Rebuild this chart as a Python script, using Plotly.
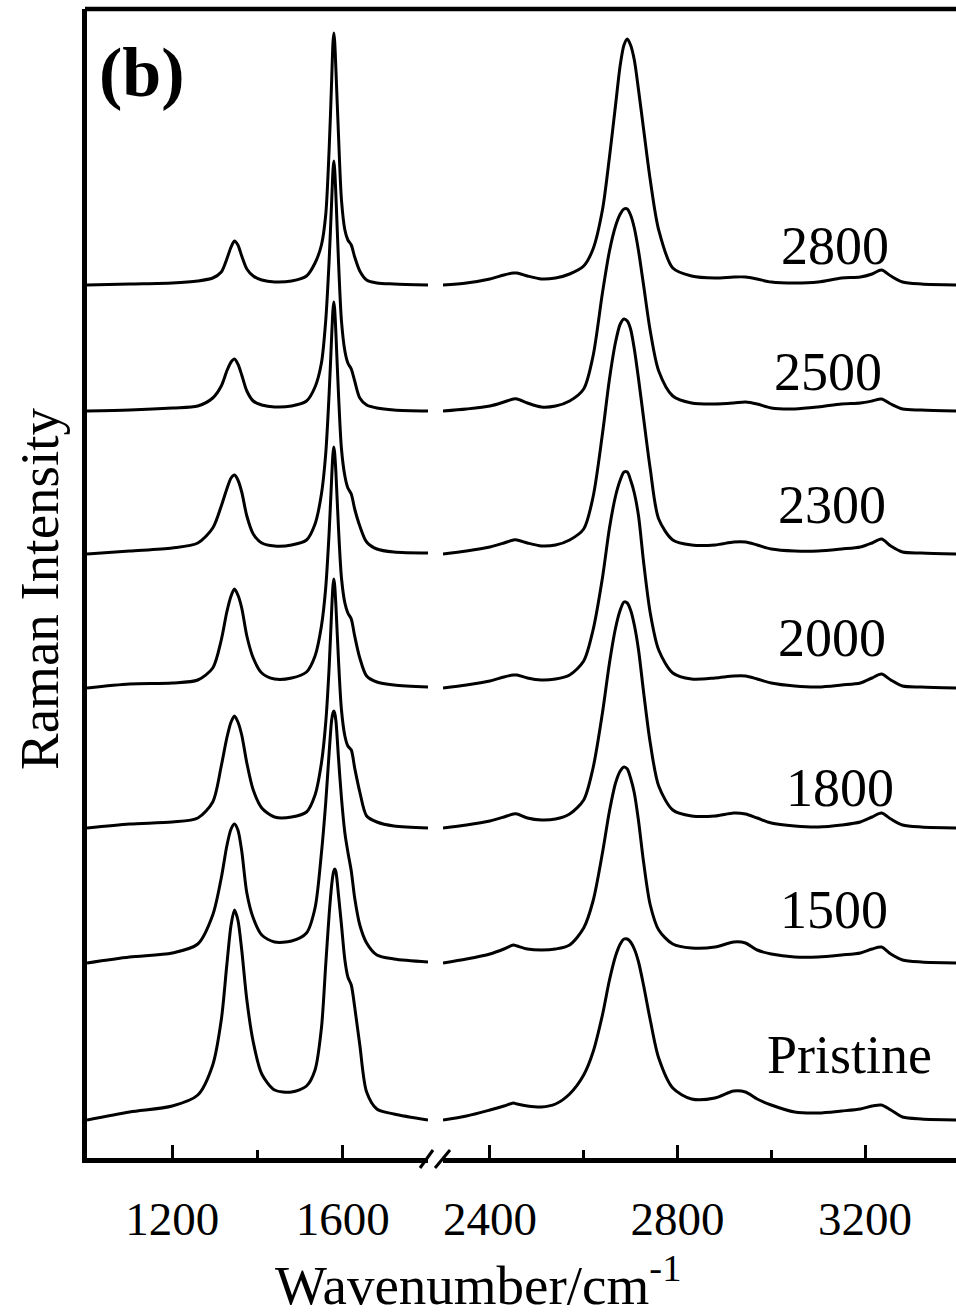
import plotly.graph_objects as go

# ---------------- data ----------------
LEFT_WN = [1000, 1100, 1200, 1260, 1295, 1315, 1328, 1338, 1346, 1354, 1363, 1375, 1390, 1410,
           1440, 1480, 1515, 1535, 1550, 1560, 1568, 1574, 1577, 1579, 1581, 1584, 1590, 1597,
           1605, 1612, 1620, 1628, 1640, 1656, 1680, 1720, 1800]
RIGHT_WN = [2300, 2350, 2400, 2430, 2450, 2458, 2480, 2510, 2540, 2570, 2600, 2620, 2640, 2655,
            2668, 2678, 2686, 2693, 2700, 2708, 2717, 2728, 2742, 2760, 2790, 2830, 2880, 2920,
            2945, 2970, 3000, 3050, 3100, 3150, 3190, 3215, 3235, 3255, 3280, 3320, 3400]

labels = ["Pristine", "1500", "1800", "2000", "2300", "2500", "2800"]
stack_offsets = [38, 195, 330, 470, 604, 747, 873]

left_pristine = [0, 8, 14, 25, 55, 100, 155, 195, 210, 200, 170, 120, 78, 46, 30, 28, 34, 50, 92, 155,
                 205, 235, 245, 249, 251, 248, 225, 195, 160, 143, 135, 113, 75, 28, 11, 6, 0]
left_1500 = [0, 6, 10, 19, 48, 85, 117, 134, 139, 133, 112, 70, 45, 28, 21, 22, 30, 55, 110, 160,
             210, 243, 250, 252, 250, 242, 205, 165, 130, 111, 92, 65, 38, 20, 8, 4, 1]
left_1800 = [0, 4, 6, 10, 26, 62, 90, 106, 112, 106, 93, 65, 38, 20, 11, 11, 16, 33, 65, 105,
             160, 218, 242, 249, 243, 222, 168, 118, 92, 82, 78, 60, 36, 12, 6, 2, 0]
left_2000 = [0, 4, 5, 8, 20, 48, 76, 92, 99, 93, 80, 52, 30, 15, 9, 10, 16, 32, 62, 100,
             155, 210, 234, 241, 235, 215, 160, 110, 85, 75, 69, 52, 30, 12, 6, 3, 1]
left_2300 = [0, 3, 6, 11, 26, 48, 65, 76, 79, 74, 62, 38, 20, 11, 8, 9, 14, 30, 60, 100,
             160, 218, 244, 252, 245, 220, 160, 105, 78, 66, 60, 45, 28, 12, 5, 2, 1]
left_2500 = [0, 1, 3, 5, 13, 25, 40, 49, 52, 47, 36, 20, 10, 6, 4, 5, 10, 24, 48, 90,
             150, 210, 240, 250, 242, 215, 150, 90, 60, 48, 42, 30, 13, 6, 3, 1, 0]
left_2800 = [0, 1, 2, 4, 7, 13, 26, 38, 44, 40, 29, 16, 9, 5, 3, 4, 9, 22, 40, 70,
             135, 205, 242, 252, 244, 215, 150, 85, 55, 45, 40, 28, 14, 5, 2, 1, 0]

right_pristine = [0, 4, 10, 14, 17, 16, 14, 13, 16, 26, 45, 68, 105, 140, 164, 176, 181, 181, 178, 171,
                  158, 134, 100, 62, 32, 21, 22, 29, 28, 21, 15, 8, 7, 9, 11, 14, 15, 10, 3, 1, 0]
right_1500 = [0, 4, 9, 14, 18, 17, 14, 13, 14, 18, 35, 62, 110, 152, 180, 192, 196, 194, 185, 170,
              142, 100, 58, 33, 19, 15, 16, 21, 20, 13, 9, 6, 6, 8, 10, 14, 16, 9, 3, 1, 0]
right_1800 = [0, 3, 7, 11, 14, 14, 10, 8, 9, 14, 28, 60, 115, 165, 200, 218, 226, 225, 218, 203,
              178, 135, 85, 42, 18, 12, 12, 15, 14, 10, 5, 2, 1, 3, 6, 11, 15, 9, 3, 1, 0]
right_2000 = [0, 3, 7, 11, 13, 13, 10, 8, 9, 13, 27, 58, 110, 160, 192, 208, 216, 216, 208, 195,
              172, 125, 75, 38, 15, 9, 10, 12, 12, 9, 5, 2, 1, 3, 5, 10, 14, 8, 2, 1, 0]
right_2300 = [0, 3, 7, 11, 14, 14, 11, 8, 9, 14, 25, 57, 120, 175, 212, 230, 235, 233, 225, 205,
              175, 135, 85, 35, 14, 9, 9, 12, 12, 9, 5, 3, 3, 5, 7, 11, 15, 8, 2, 1, 0]
right_2500 = [0, 2, 5, 9, 12, 12, 8, 4, 5, 10, 22, 55, 118, 160, 185, 197, 202, 202, 196, 183,
              160, 125, 80, 40, 15, 8, 7, 8, 9, 7, 3, 2, 4, 7, 8, 10, 12, 7, 2, 1, 0]
right_2800 = [0, 2, 6, 10, 12, 12, 9, 6, 7, 11, 19, 36, 75, 128, 180, 220, 240, 246, 240, 225,
              195, 155, 105, 55, 17, 9, 7, 8, 8, 6, 3, 2, 3, 7, 8, 11, 15, 9, 3, 1, 0]

left_series = [left_pristine, left_1500, left_1800, left_2000, left_2300, left_2500, left_2800]
right_series = [right_pristine, right_1500, right_1800, right_2000, right_2300, right_2500, right_2800]

LEFT_RANGE = [1000, 1800]
RIGHT_RANGE = [2300, 3394]
LEFT_TICKS = [1200, 1600]
LEFT_MINOR = [1400]
RIGHT_TICKS = [2400, 2800, 3200]
RIGHT_MINOR = [2600, 3000]

# ---------------- layout geometry ----------------
FIG_W, FIG_H = 956, 1315
ML, MR, MT, MB = 87, 0, 9, 157
PW = FIG_W - ML - MR
PH = FIG_H - MT - MB
FONT = "Liberation Serif, Times New Roman, serif"


def px_x(px):
    return (px - ML) / PW


def px_y(py):
    return (FIG_H - MB - py) / PH


fig = go.Figure()
line_style = dict(color="black", width=3, shape="spline", smoothing=0.8)
for name, off, lv, rv in zip(labels, stack_offsets, left_series, right_series):
    fig.add_trace(go.Scatter(x=LEFT_WN, y=[off + v for v in lv], mode="lines",
                             line=line_style, name=name, showlegend=False,
                             xaxis="x", yaxis="y", hoverinfo="skip"))
    fig.add_trace(go.Scatter(x=RIGHT_WN, y=[off + v for v in rv], mode="lines",
                             line=line_style, name=name, showlegend=False,
                             xaxis="x2", yaxis="y", hoverinfo="skip"))

axis_common = dict(
    showline=True, linewidth=4.5, linecolor="black", mirror=False,
    ticks="inside", ticklen=13, tickwidth=2.5, tickcolor="black",
    tickfont=dict(family=FONT, size=47, color="black"),
    showgrid=False, zeroline=False, anchor="y", ticklabelstandoff=16,
)

fig.update_layout(
    width=FIG_W, height=FIG_H,
    margin=dict(l=ML, r=MR, t=MT, b=MB, pad=0),
    paper_bgcolor="white", plot_bgcolor="white",
    showlegend=False,
    xaxis=dict(domain=[0, px_x(428)], range=LEFT_RANGE, tickmode="array", tickvals=LEFT_TICKS,
               minor=dict(tickmode="array", tickvals=LEFT_MINOR, ticks="inside", ticklen=8,
                          tickwidth=2.5, tickcolor="black", showgrid=False),
               **axis_common),
    xaxis2=dict(domain=[px_x(443), 1], range=RIGHT_RANGE, tickmode="array", tickvals=RIGHT_TICKS,
                minor=dict(tickmode="array", tickvals=RIGHT_MINOR, ticks="inside", ticklen=8,
                           tickwidth=2.5, tickcolor="black", showgrid=False),
                **axis_common),
    yaxis=dict(domain=[0, 1], range=[0, PH], showline=True, linewidth=4.5, linecolor="black",
               showticklabels=False, ticks="", showgrid=False, zeroline=False, anchor="x"),
)

# top frame line and axis-break marks
shapes = [dict(type="line", xref="paper", yref="paper", x0=px_x(85), x1=1.01, y0=1, y1=1,
               line=dict(color="black", width=4.5))]
for a, b in [(420, 433), (435, 450)]:
    shapes.append(dict(type="line", xref="paper", yref="paper",
                       x0=px_x(a), y0=px_y(1168), x1=px_x(b), y1=px_y(1150),
                       line=dict(color="black", width=3)))
fig.update_layout(shapes=shapes)

label_pos = {"2800": (835, 246), "2500": (828, 372), "2300": (832, 505), "2000": (832, 638),
             "1800": (840, 788), "1500": (834, 910), "Pristine": (849, 1055)}
ann = []
for name in labels:
    px, py = label_pos[name]
    ann.append(dict(text=name, x=px_x(px), y=px_y(py), xref="paper", yref="paper",
                    showarrow=False, xanchor="center", yanchor="middle",
                    font=dict(family=FONT, size=54, color="black")))
ann.append(dict(text="<b>(b)</b>", x=px_x(142), y=px_y(72), xref="paper", yref="paper",
                showarrow=False, xanchor="center", yanchor="middle",
                font=dict(family=FONT, size=70, color="black")))
ann.append(dict(text="Raman Intensity", x=px_x(40), y=px_y(589), xref="paper", yref="paper",
                showarrow=False, textangle=-90, xanchor="center", yanchor="middle",
                font=dict(family=FONT, size=55, color="black")))
ann.append(dict(text="Wavenumber/cm<sup>-1</sup>", x=px_x(478), y=px_y(1281), xref="paper",
                yref="paper", showarrow=False, xanchor="center", yanchor="middle",
                font=dict(family=FONT, size=55, color="black")))
fig.update_layout(annotations=ann)

fig.write_html("out.html", config={"displayModeBar": False},
               post_script="document.body.style.margin='0px';")
